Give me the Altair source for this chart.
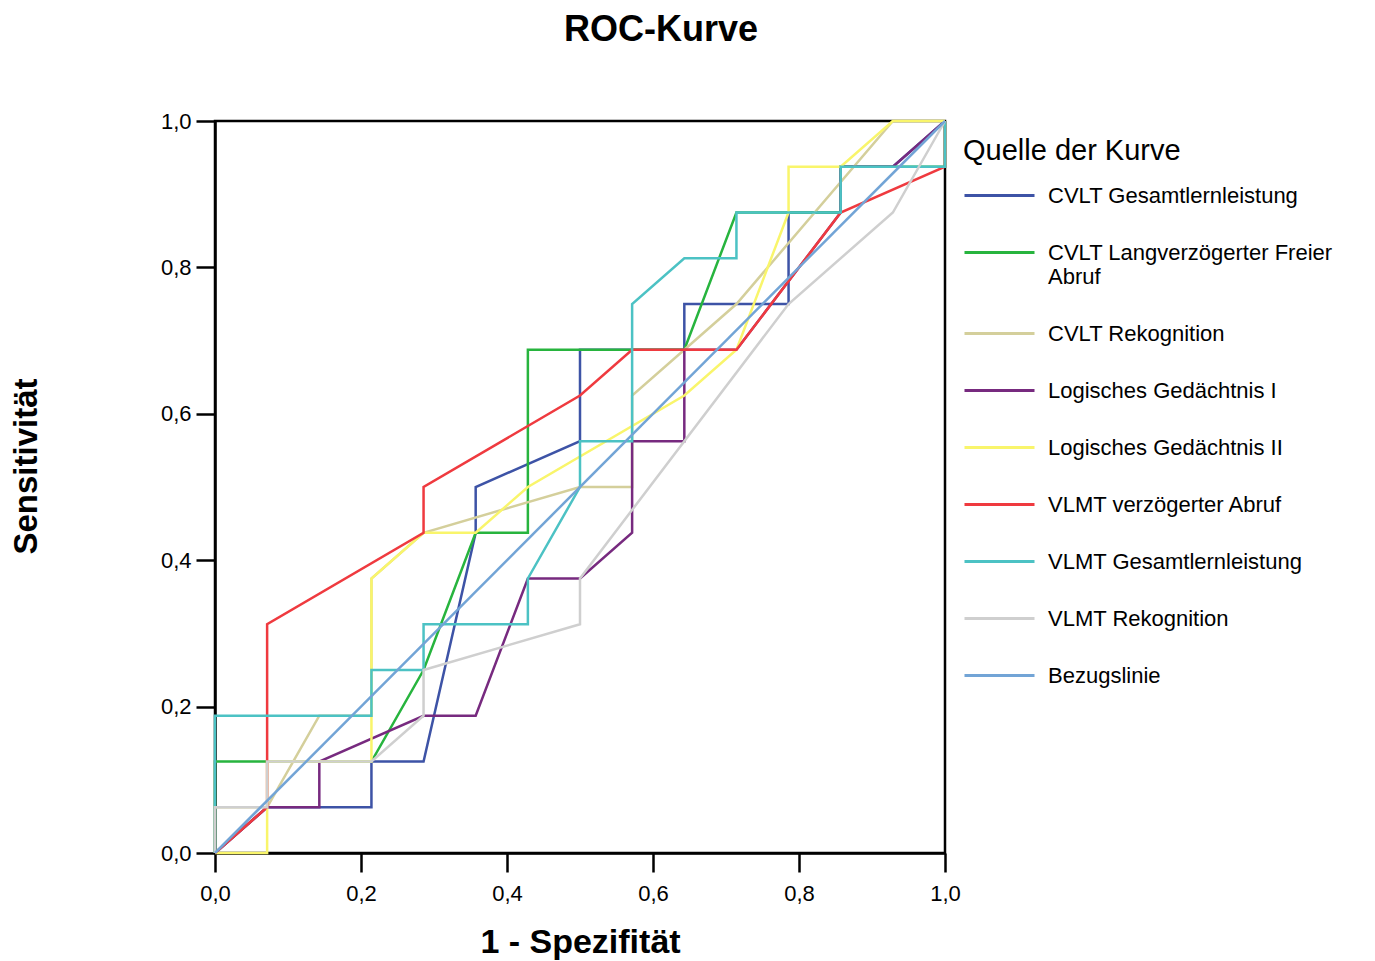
import altair as alt
import pandas as pd

TITLE = "ROC-Kurve"
X_TITLE = "1 - Spezifität"
Y_TITLE = "Sensitivität"
LEGEND_TITLE = "Quelle der Kurve"
TICKS = [0.0, 0.2, 0.4, 0.6, 0.8, 1.0]

NAMES = [
    "CVLT Gesamtlernleistung",
    "CVLT Langverzögerter Freier Abruf",
    "CVLT Rekognition",
    "Logisches Gedächtnis I",
    "Logisches Gedächtnis II",
    "VLMT verzögerter Abruf",
    "VLMT Gesamtlernleistung",
    "VLMT Rekognition",
    "Bezugslinie",
]
COLORS = ["#3d53a6", "#27b43e", "#d4cf9b", "#772a7f", "#f9f56b",
          "#ef3a3f", "#4cc2c4", "#cfcfcf", "#72a4d6"]

# 1 - specificity (x) and sensitivity (y) for each curve
cvlt_ges_x = [0, .0714, .2143, .2143, .2857, .3571, .3571, .5, .5, .6429, .6429, .7857, .7857, .8571, .8571, .9286, 1]
cvlt_ges_y = [0, .0625, .0625, .125, .125, .4375, .5, .5625, .6875, .6875, .75, .75, .875, .875, .9375, .9375, 1]

cvlt_lang_x = [0, 0, .0714, .2143, .2857, .3571, .4286, .4286, .6429, .7143, .8571, .8571, 1, 1]
cvlt_lang_y = [0, .125, .125, .125, .25, .4375, .4375, .6875, .6875, .875, .875, .9375, .9375, 1]

cvlt_rek_x = [0, 0, .0714, .1429, .2143, .2143, .2857, .5, .5714, .5714, .7143, .9286, 1]
cvlt_rek_y = [0, .0625, .0625, .1875, .1875, .375, .4375, .5, .5, .625, .75, 1, 1]

log1_x = [0, .0714, .1429, .1429, .2857, .3571, .4286, .5, .5714, .5714, .6429, .6429, .7143, .8571, .8571, .9286, 1]
log1_y = [0, .0625, .0625, .125, .1875, .1875, .375, .375, .4375, .5625, .5625, .6875, .6875, .875, .9375, .9375, 1]

log2_x = [0, .0714, .0714, .0714, .2143, .2143, .2857, .3571, .4286, .6429, .7143, .7857, .7857, .8571, .9286, 1]
log2_y = [0, 0, .0625, .125, .125, .375, .4375, .4375, .5, .625, .6875, .875, .9375, .9375, 1, 1]

vlmt_verz_x = [0, .0714, .0714, .2857, .2857, .5, .5714, .7143, .8571, 1, 1]
vlmt_verz_y = [0, .0625, .3125, .4375, .5, .625, .6875, .6875, .875, .9375, 1]

vlmt_ges_x = [0, 0, .2143, .2143, .2857, .2857, .4286, .4286, .5, .5, .5714, .5714, .6429, .7143, .7143, .8571, .8571, 1, 1]
vlmt_ges_y = [0, .1875, .1875, .25, .25, .3125, .3125, .375, .5, .5625, .5625, .75, .8125, .8125, .875, .875, .9375, .9375, 1]

vlmt_rek_x = [0, 0, .0714, .0714, .2143, .2857, .2857, .5, .5, .7857, .9286, 1]
vlmt_rek_y = [0, .0625, .0625, .125, .125, .1875, .25, .3125, .375, .75, .875, 1]

ref_x = [0, 1]
ref_y = [0, 1]

SERIES_X = [cvlt_ges_x, cvlt_lang_x, cvlt_rek_x, log1_x, log2_x,
            vlmt_verz_x, vlmt_ges_x, vlmt_rek_x, ref_x]
SERIES_Y = [cvlt_ges_y, cvlt_lang_y, cvlt_rek_y, log1_y, log2_y,
            vlmt_verz_y, vlmt_ges_y, vlmt_rek_y, ref_y]

FONT = "Liberation Sans"
label_expr = "replace(format(datum.value, '.1f'), '.', ',')"

x_enc = alt.X(
    "x:Q",
    scale=alt.Scale(domain=[0, 1], nice=False),
    axis=alt.Axis(
        values=TICKS, labelExpr=label_expr, title=X_TITLE, grid=False,
        tickSize=19, tickWidth=2.5, tickColor="black",
        domainColor="black", domainWidth=2.5, labelFlush=False,
        labelFont=FONT, labelFontSize=22, labelColor="black", labelPadding=11,
        titleFont=FONT, titleFontSize=34, titleFontWeight="bold",
        titleColor="black", titlePadding=21,
    ),
)
y_enc = alt.Y(
    "y:Q",
    scale=alt.Scale(domain=[0, 1], nice=False),
    axis=alt.Axis(
        values=TICKS, labelExpr=label_expr, title=Y_TITLE, grid=False,
        tickSize=19, tickWidth=2.5, tickColor="black",
        domainColor="black", domainWidth=2.5, labelFlush=False,
        labelFont=FONT, labelFontSize=22, labelColor="black", labelPadding=5,
        titleFont=FONT, titleFontSize=33, titleFontWeight="bold",
        titleColor="black", titlePadding=117, titleY=345,
    ),
)

legend = alt.Legend(
    title=LEGEND_TITLE, orient="none", legendX=748, legendY=16,
    titleFont=FONT, titleFontSize=29, titleFontWeight="normal",
    titleColor="black", titlePadding=-7, titleLimit=500,
    labelFont=FONT, labelFontSize=22, labelColor="black", labelLimit=500,
    labelOffset=12, symbolType="stroke", symbolSize=4900,
    symbolStrokeWidth=3, rowPadding=9,
    labelExpr="datum.label == 'CVLT Langverzögerter Freier Abruf' ? ['CVLT Langverzögerter Freier', 'Abruf'] : datum.label",
)

color_enc = alt.Color(
    "Quelle:N",
    scale=alt.Scale(domain=NAMES, range=COLORS),
    legend=legend,
)

layers = []
for name, xs, ys in zip(NAMES, SERIES_X, SERIES_Y):
    df = pd.DataFrame({"x": xs, "y": ys, "Quelle": name, "ord": list(range(len(xs)))})
    layers.append(
        alt.Chart(df)
        .mark_line(strokeWidth=2.5)
        .encode(x=x_enc, y=y_enc, color=color_enc, order="ord:Q")
    )

chart = (
    alt.layer(*layers)
    .properties(
        width=730,
        height=732,
        padding={"left": 2, "top": 4, "right": 5, "bottom": 5},
        title=alt.TitleParams(
            TITLE, font=FONT, fontSize=36, fontWeight="bold", color="black",
            anchor="middle", frame="group", dx=81, offset=61,
        ),
        background="white",
    )
    .configure_view(stroke="black", strokeWidth=2.5)
)

chart.save("out.html", embed_options={"renderer": "svg", "actions": False})
